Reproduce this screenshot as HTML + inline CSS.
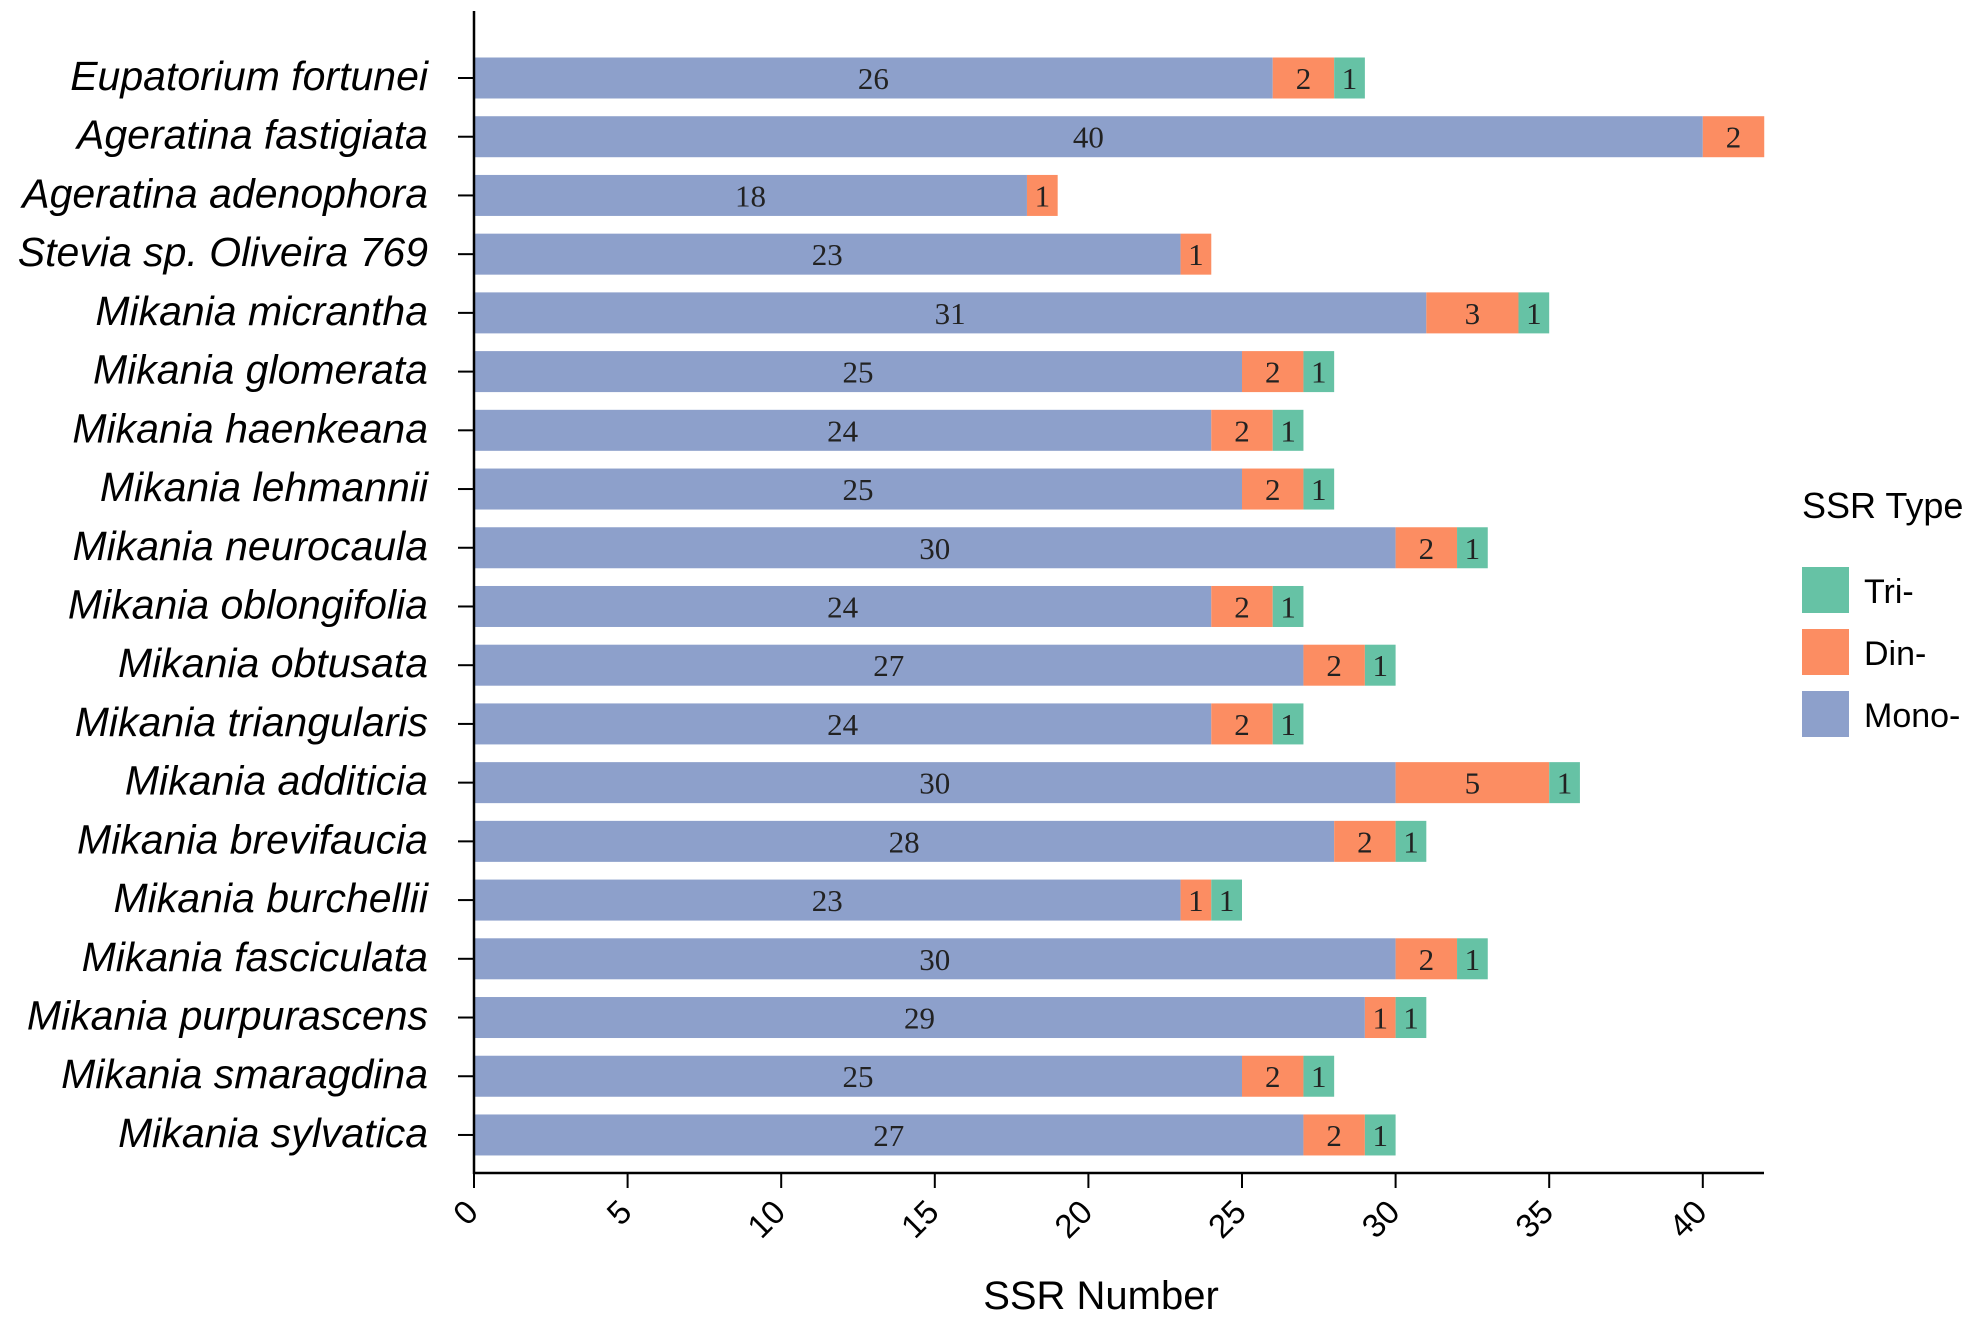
<!DOCTYPE html>
<html><head><meta charset="utf-8"><style>
body{margin:0;background:#fff}
svg text{font-family:"Liberation Sans",sans-serif}
</style></head><body>
<svg id="c" width="1982" height="1320" xmlns="http://www.w3.org/2000/svg"></svg>
<script>
const species=["Eupatorium fortunei","Ageratina fastigiata","Ageratina adenophora","Stevia sp. Oliveira 769","Mikania micrantha","Mikania glomerata","Mikania haenkeana","Mikania lehmannii","Mikania neurocaula","Mikania oblongifolia","Mikania obtusata","Mikania triangularis","Mikania additicia","Mikania brevifaucia","Mikania burchellii","Mikania fasciculata","Mikania purpurascens","Mikania smaragdina","Mikania sylvatica"];
const mono=[26,40,18,23,31,25,24,25,30,24,27,24,30,28,23,30,29,25,27];
const din=[2,2,1,1,3,2,2,2,2,2,2,2,5,2,1,2,1,2,2];
const tri=[1,0,0,0,1,1,1,1,1,1,1,1,1,1,1,1,1,1,1];
const xTicks=[0,5,10,15,20,25,30,35,40];
const svg=document.getElementById('c');
const NS="http://www.w3.org/2000/svg";
const x0=474,xs=30.72,y0=78,pitch=58.72,bh=41;
const X=v=>x0+v*xs, Y=i=>y0+i*pitch;
function mk(t,a,p){const e=document.createElementNS(NS,t);for(const k in a)e.setAttribute(k,a[k]);(p||svg).appendChild(e);return e;}
const colors={mono:"#8da0cb",din:"#fc8d62",tri:"#66c2a5"};
species.forEach((s,i)=>{
  const g=mk('g',{});
  
  
  const cy=Y(i);
  const segs=[['mono',0,mono[i]],['din',mono[i],din[i]],['tri',mono[i]+din[i],tri[i]]];
  segs.forEach(([k,st,v])=>{
    if(!v)return;
    const r=mk('rect',{x:X(st),y:cy-bh/2,width:v*xs,height:bh,fill:colors[k]},g);
    
    
    const t=mk('text',{x:X(st+v/2),y:cy+11,'text-anchor':'middle','font-size':31,fill:'#222',style:'font-family:"Liberation Serif",serif'},g);
    t.textContent=v;
    
    
  });
  mk('line',{x1:458,x2:474,y1:cy,y2:cy,stroke:'#000','stroke-width':2},g);
  const l=mk('text',{x:428,y:cy+12,'text-anchor':'end','font-size':41,'font-style':'italic',fill:'#000'},g);
  l.textContent=s;
  
  
});
const ya=mk('line',{x1:474,x2:474,y1:11,y2:1174,stroke:'#000','stroke-width':2.5});


const xa=mk('line',{x1:473,x2:1764,y1:1173,y2:1173,stroke:'#000','stroke-width':2.5});


xTicks.forEach(v=>{
  mk('line',{x1:X(v),x2:X(v),y1:1173,y2:1188,stroke:'#000','stroke-width':2});
  const t=mk('text',{x:X(v)+6,y:1214,'text-anchor':'end','font-size':33,transform:`rotate(-45 ${X(v)+6} 1214)`,fill:'#000'});
  t.textContent=v;
  
  
});
const at=mk('text',{x:1101,y:1309,'text-anchor':'middle','font-size':40,fill:'#000'});
at.textContent="SSR Number";


const lt=mk('text',{x:1802,y:518,'font-size':36,fill:'#000'});
lt.textContent="SSR Type";


[["Tri-","tri",567],["Din-","din",629],["Mono-","mono",691]].forEach(([n,k,y])=>{
  const g=mk('g',{});
  
  
  mk('rect',{x:1802,y:y,width:47,height:46,fill:colors[k]},g);
  const t=mk('text',{x:1864,y:y+36,'font-size':34,fill:'#000'},g);
  t.textContent=n;
});
</script>
</body></html>
